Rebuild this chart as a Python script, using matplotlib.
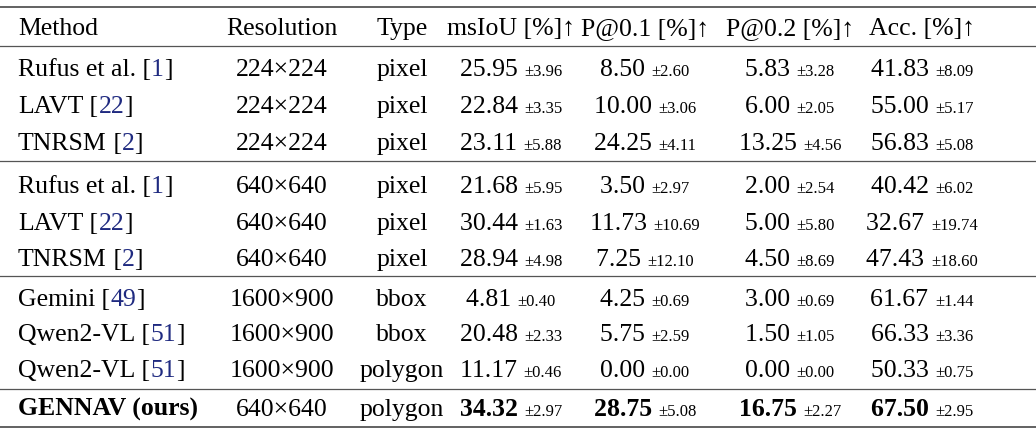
import matplotlib
matplotlib.use("Agg")
import matplotlib.pyplot as plt

plt.rcParams['font.family'] = ['Liberation Serif', 'DejaVu Serif']

## DATA
headers = ["Method", "Resolution", "Type", "msIoU [%]↑", "P@0.1 [%]↑", "P@0.2 [%]↑", "Acc. [%]↑"]
methods = ["Rufus et al.", "LAVT", "TNRSM", "Rufus et al.", "LAVT", "TNRSM",
           "Gemini", "Qwen2-VL", "Qwen2-VL", "GENNAV (ours)"]
cites = ["1", "22", "2", "1", "22", "2", "49", "51", "51", None]
resolutions = ["224×224"] * 3 + ["640×640"] * 3 + ["1600×900"] * 3 + ["640×640"]
types = ["pixel"] * 6 + ["bbox", "bbox", "polygon", "polygon"]
msiou = [(25.95, 3.96), (22.84, 3.35), (23.11, 5.88), (21.68, 5.95), (30.44, 1.63),
         (28.94, 4.98), (4.81, 0.40), (20.48, 2.33), (11.17, 0.46), (34.32, 2.97)]
p01 = [(8.50, 2.60), (10.00, 3.06), (24.25, 4.11), (3.50, 2.97), (11.73, 10.69),
       (7.25, 12.10), (4.25, 0.69), (5.75, 2.59), (0.00, 0.00), (28.75, 5.08)]
p02 = [(5.83, 3.28), (6.00, 2.05), (13.25, 4.56), (2.00, 2.54), (5.00, 5.80),
       (4.50, 8.69), (3.00, 0.69), (1.50, 1.05), (0.00, 0.00), (16.75, 2.27)]
acc = [(41.83, 8.09), (55.00, 5.17), (56.83, 5.08), (40.42, 6.02), (32.67, 19.74),
       (47.43, 18.60), (61.67, 1.44), (66.33, 3.36), (50.33, 0.75), (67.50, 2.95)]

# layout (pixels)
W, H = 1036, 431
FS, FS_SMALL = 18.5, 12
CITE = "#1f2a80"
BASE = 8
header_y = 27
row_y = [68, 105, 142, 185, 222, 258, 298, 333, 369, 408]
rules = [(8, 1.3), (47, 0.9), (162, 0.9), (277, 0.9), (390, 0.9), (428, 1.3)]
method_x = 18
col_x = [282, 402, 511, 645, 790, 922]

fig = plt.figure(figsize=(W / 100, H / 100), dpi=100)
ax = fig.add_axes([0, 0, 1, 1])
ax.set_xlim(0, W)
ax.set_ylim(H, 0)
ax.axis("off")
fig.canvas.draw()
renderer = fig.canvas.get_renderer()


def width_px(t):
    return t.get_window_extent(renderer).width


for y, lw in rules:
    ax.plot([0, W], [y, y], color="#555555", lw=lw)

ax.text(method_x, header_y + BASE, headers[0], fontsize=FS, va="baseline", ha="left")
for x, h in zip(col_x, headers[1:]):
    ax.text(x, header_y + BASE, h, fontsize=FS, va="baseline", ha="center")

for i, y in enumerate(row_y):
    yb = y + BASE
    bold = cites[i] is None
    fw = "bold" if bold else "normal"
    t = ax.text(method_x, yb, methods[i], fontsize=FS, va="baseline", ha="left", weight=fw)
    if cites[i] is not None:
        x = method_x + width_px(t)
        a = ax.text(x, yb, " [", fontsize=FS, va="baseline", ha="left")
        x += width_px(a)
        b = ax.text(x, yb, cites[i], fontsize=FS, va="baseline", ha="left", color=CITE)
        x += width_px(b)
        ax.text(x, yb, "]", fontsize=FS, va="baseline", ha="left")
    ax.text(col_x[0], yb, resolutions[i], fontsize=FS, va="baseline", ha="center")
    ax.text(col_x[1], yb, types[i], fontsize=FS, va="baseline", ha="center")
    for cx, data in zip(col_x[2:], [msiou, p01, p02, acc]):
        v, s = data[i]
        m = ax.text(0, yb, f"{v:.2f} ", fontsize=FS, va="baseline", ha="left", weight=fw)
        p = ax.text(0, yb, f"±{s:.2f}", fontsize=FS_SMALL, va="baseline", ha="left")
        wm, wp = width_px(m), width_px(p)
        x0 = cx - (wm + wp) / 2
        m.set_x(x0)
        p.set_x(x0 + wm)

fig.savefig("out.png", dpi=100)
